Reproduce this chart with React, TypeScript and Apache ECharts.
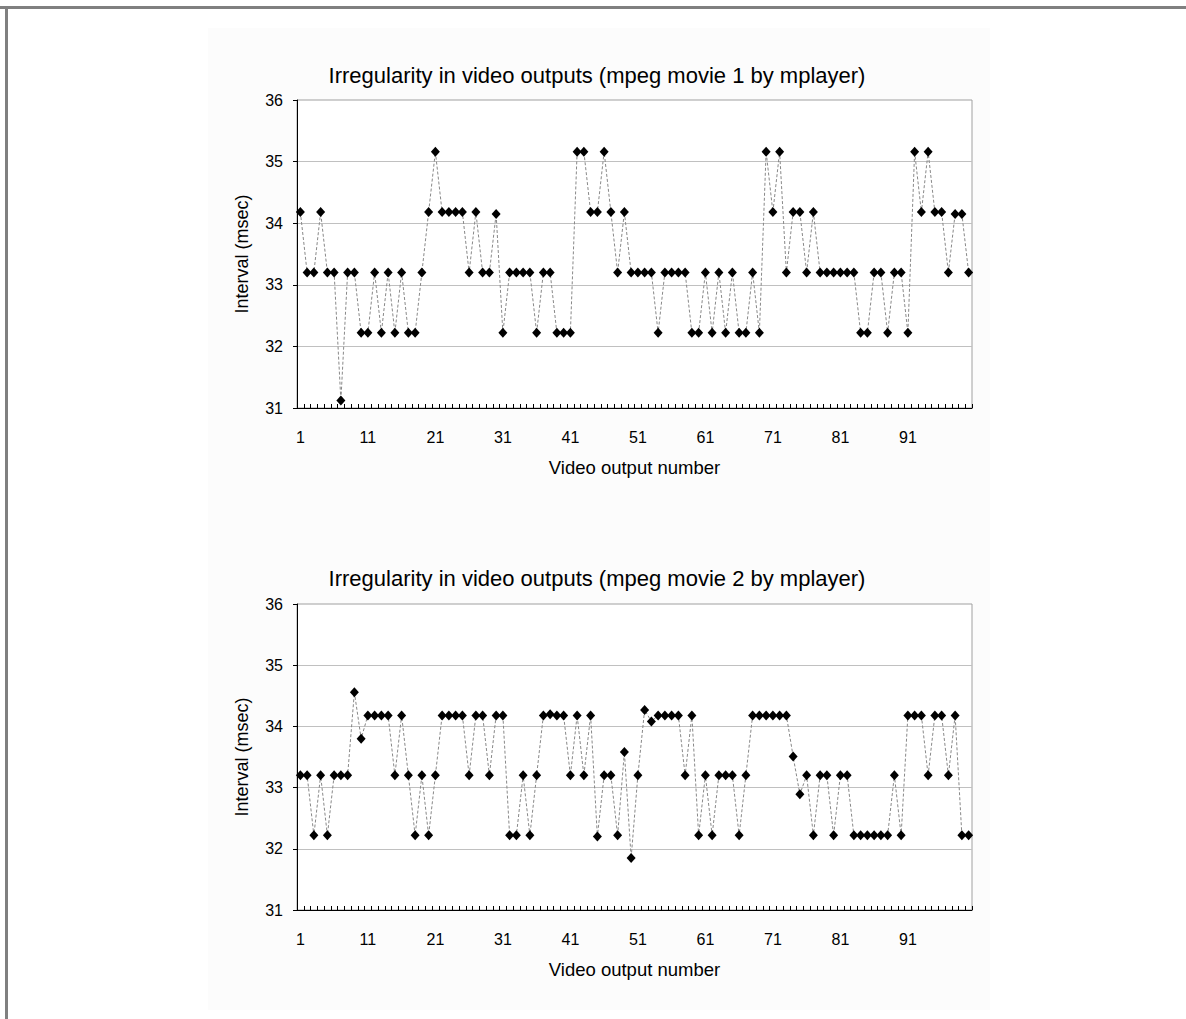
import React, { useEffect, useRef } from "react";
import * as echarts from "echarts";

const FONT = "'Liberation Sans', Arial, Helvetica, sans-serif";

const categories: string[] = Array.from({ length: 100 }, (_, i) => String(i + 1));

const titles = [
  "Irregularity in video outputs (mpeg movie 1 by mplayer)",
  "Irregularity in video outputs (mpeg movie 2 by mplayer)",
];
const xAxisName = "Video output number";
const yAxisName = "Interval (msec)";
const yMin = 31;
const yMax = 36;
const yStep = 1;

const movie1: number[] = [
  34.18, 33.2, 33.2, 34.18, 33.2, 33.2, 31.12, 33.2, 33.2, 32.22,
  32.22, 33.2, 32.22, 33.2, 32.22, 33.2, 32.22, 32.22, 33.2, 34.18,
  35.16, 34.18, 34.18, 34.18, 34.18, 33.2, 34.18, 33.2, 33.2, 34.15,
  32.22, 33.2, 33.2, 33.2, 33.2, 32.22, 33.2, 33.2, 32.22, 32.22,
  32.22, 35.16, 35.16, 34.18, 34.18, 35.16, 34.18, 33.2, 34.18, 33.2,
  33.2, 33.2, 33.2, 32.22, 33.2, 33.2, 33.2, 33.2, 32.22, 32.22,
  33.2, 32.22, 33.2, 32.22, 33.2, 32.22, 32.22, 33.2, 32.22, 35.16,
  34.18, 35.16, 33.2, 34.18, 34.18, 33.2, 34.18, 33.2, 33.2, 33.2,
  33.2, 33.2, 33.2, 32.22, 32.22, 33.2, 33.2, 32.22, 33.2, 33.2,
  32.22, 35.16, 34.18, 35.16, 34.18, 34.18, 33.2, 34.15, 34.15, 33.2,
];

const movie2: number[] = [
  33.2, 33.2, 32.22, 33.2, 32.22, 33.2, 33.2, 33.2, 34.56, 33.8,
  34.18, 34.18, 34.18, 34.18, 33.2, 34.18, 33.2, 32.22, 33.2, 32.22,
  33.2, 34.18, 34.18, 34.18, 34.18, 33.2, 34.18, 34.18, 33.2, 34.18,
  34.18, 32.22, 32.22, 33.2, 32.22, 33.2, 34.18, 34.2, 34.18, 34.18,
  33.2, 34.18, 33.2, 34.18, 32.2, 33.2, 33.2, 32.22, 33.58, 31.85,
  33.2, 34.27, 34.08, 34.18, 34.18, 34.18, 34.18, 33.2, 34.18, 32.22,
  33.2, 32.22, 33.2, 33.2, 33.2, 32.22, 33.2, 34.18, 34.18, 34.18,
  34.18, 34.18, 34.18, 33.51, 32.89, 33.2, 32.22, 33.2, 33.2, 32.22,
  33.2, 33.2, 32.22, 32.22, 32.22, 32.22, 32.22, 32.22, 33.2, 32.22,
  34.18, 34.18, 34.18, 33.2, 34.18, 34.18, 33.2, 34.18, 32.22, 32.22,
];

const seriesData = [movie1, movie2];

export default function App() {
  const ref = useRef<HTMLDivElement>(null);

  useEffect(() => {
    document.body.style.margin = "0";
    if (!ref.current) return;
    const chart = echarts.init(ref.current, undefined, { renderer: "svg" });

    const grids = [
      { left: 297, top: 100, width: 675, height: 308 },
      { left: 297, top: 604, width: 675, height: 306 },
    ];
    const titleY = [75, 578];

    const option: any = {
      animation: false,
      backgroundColor: "#ffffff",
      textStyle: { fontFamily: FONT },
      graphic: [
        {
          type: "rect",
          silent: true,
          z: -10,
          shape: { x: 208, y: 28, width: 782, height: 982 },
          style: { fill: "#fcfcfc" },
        },
        {
          type: "rect",
          silent: true,
          shape: { x: 0, y: 6, width: 1186, height: 3 },
          style: { fill: "#808080" },
        },
        {
          type: "rect",
          silent: true,
          shape: { x: 5, y: 6, width: 3, height: 1013 },
          style: { fill: "#808080" },
        },
        ...titles.map((t, i) => ({
          type: "text",
          silent: true,
          x: 597,
          y: titleY[i],
          style: {
            text: t,
            fill: "#000",
            fontSize: 22,
            fontFamily: FONT,
            align: "center",
            verticalAlign: "middle",
            textAlign: "center",
            textVerticalAlign: "middle",
          },
        })),
      ],
      grid: grids.map((g) => ({
        ...g,
        show: true,
        backgroundColor: "#ffffff",
        borderColor: "#a0a0a0",
        borderWidth: 1,
        containLabel: false,
      })),
      xAxis: grids.map((_, i) => ({
        type: "category",
        gridIndex: i,
        data: categories,
        boundaryGap: true,
        name: xAxisName,
        nameLocation: "middle",
        nameGap: 50,
        nameTextStyle: { fontSize: 18.5, color: "#000", fontFamily: FONT },
        axisLine: { show: true, lineStyle: { color: "#000", width: 1 } },
        axisTick: {
          show: true,
          inside: true,
          length: 4,
          interval: 0,
          lineStyle: { color: "#000", width: 1 },
        },
        axisLabel: {
          interval: 9,
          fontSize: 16,
          color: "#000",
          margin: 21,
          fontFamily: FONT,
        },
        splitLine: { show: false },
      })),
      yAxis: grids.map((_, i) => ({
        type: "value",
        gridIndex: i,
        min: yMin,
        max: yMax,
        interval: yStep,
        name: yAxisName,
        nameLocation: "middle",
        nameGap: 46,
        nameRotate: 90,
        nameTextStyle: { fontSize: 18, color: "#000", fontFamily: FONT },
        axisLine: { show: true, lineStyle: { color: "#000", width: 1 } },
        axisTick: { show: true, inside: false, length: 4, lineStyle: { color: "#000" } },
        axisLabel: { fontSize: 16, color: "#000", margin: 14, fontFamily: FONT },
        splitLine: {
          show: true,
          showMinLine: false,
          showMaxLine: false,
          lineStyle: { color: "#c0c0c0", width: 1 },
        },
      })),
      series: seriesData.map((d, i) => ({
        type: "line",
        xAxisIndex: i,
        yAxisIndex: i,
        data: d,
        symbol: "diamond",
        symbolSize: [9, 10],
        showSymbol: true,
        showAllSymbol: true,
        itemStyle: { color: "#000" },
        lineStyle: { color: "#888888", width: 1, type: [3, 2] },
        emphasis: { disabled: true },
      })),
    };

    chart.setOption(option);
    return () => {
      chart.dispose();
    };
  }, []);

  return <div ref={ref} style={{ width: 1186, height: 1019 }} />;
}
